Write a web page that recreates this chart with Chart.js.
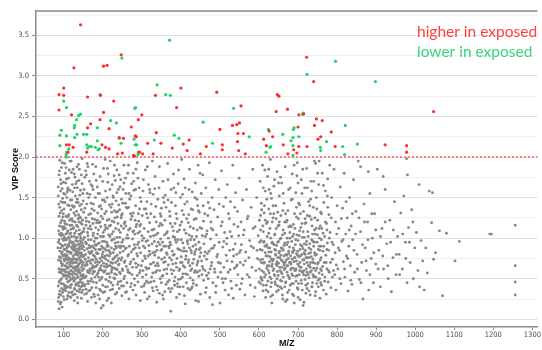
<!DOCTYPE html>
<html>
<head>
<meta charset="utf-8">
<script src="https://cdn.jsdelivr.net/npm/chart.js@4.4.0/dist/chart.umd.min.js"></script>
<style>
  body { margin: 0; background: #fff; }
  canvas { display: block; }
</style>
</head>
<body>
<canvas id="vipChart" width="542" height="350"></canvas>
<script>
// VIP score vs M/Z. Each point is [M/Z, VIP]
const vipCut = 2.0
const mzTicks = [100, 200, 300, 400, 500, 600, 700, 800, 900, 1000, 1100, 1200, 1300]
const legendTexts = ['higher in exposed', 'lower in exposed']

// features above the cut, higher in exposed
const higherPts = [
  [143,3.63],[88,2.77],[100,2.85],[100,2.76],[88,2.58],[126,3.10],[120,2.52],[161,2.74],[107,2.15],[114,2.15],
  [124,2.12],[111,2.06],[161,2.36],[169,2.41],[159,2.06],[194,2.76],[202,3.12],[211,3.13],[202,2.55],[193,2.46],
  [198,2.15],[207,2.12],[216,2.10],[228,2.69],[216,2.35],[247,3.26],[242,2.24],[253,2.23],[238,2.04],[250,2.05],
  [273,2.37],[283,2.26],[286,2.25],[279,2.02],[281,2.01],[291,2.46],[300,2.52],[294,2.06],[302,2.04],[335,2.76],
  [337,2.30],[349,2.17],[329,2.04],[315,2.17],[400,2.85],[389,2.61],[378,2.11],[406,2.16],[421,2.21],[416,2.08],
  [450,2.04],[465,2.13],[492,2.80],[500,2.34],[506,2.15],[506,2.09],[532,2.39],[543,2.40],[550,2.42],[554,2.63],
  [546,2.29],[560,2.29],[545,2.19],[548,2.08],[565,2.04],[612,2.22],[619,2.14],[635,2.25],[644,2.56],[647,2.77],
  [722,3.23],[740,2.93],[651,2.75],[673,2.59],[702,2.52],[714,2.53],[747,2.47],[762,2.45],[742,2.39],[700,2.37],
  [626,2.32],[785,2.31],[758,2.25],[751,2.22],[662,2.15],[702,2.13],[723,2.13],[795,2.13],[674,2.04],[697,2.05],
  [689,2.09],[923,2.15],[978,2.14],[978,2.06],[1047,2.56]
]

// features above the cut, lower in exposed
const lowerPts = [
  [371,3.44],[249,3.22],[339,2.89],[361,2.77],[373,2.76],[100,2.69],[107,2.61],[193,2.77],[127,2.36],[128,2.39],
  [133,2.46],[138,2.51],[143,2.53],[90,2.27],[94,2.33],[90,2.14],[107,2.26],[108,2.06],[106,2.03],[107,2.00],
  [113,2.10],[128,2.24],[134,2.28],[151,2.28],[159,2.28],[159,2.15],[161,2.11],[166,2.13],[171,2.13],[181,2.12],
  [188,2.09],[191,2.10],[186,2.36],[186,2.20],[220,2.45],[235,2.42],[247,2.17],[242,2.23],[282,2.60],[284,2.61],
  [280,2.22],[283,2.15],[287,2.15],[291,2.06],[290,2.03],[332,2.21],[383,2.27],[395,2.23],[457,2.43],[481,2.17],
  [535,2.60],[575,2.25],[624,2.34],[628,2.12],[618,2.06],[796,3.18],[723,3.02],[898,2.93],[711,2.53],[714,2.54],
  [821,2.39],[690,2.36],[688,2.34],[661,2.28],[687,2.24],[702,2.25],[682,2.20],[773,2.19],[630,2.13],[687,2.14],
  [757,2.12],[758,2.08],[814,2.13],[852,2.16],[819,2.03],[687,2.02]
]

// everything under the cut, by M/Z range
const grayLow = [
  [86,0.95],[87,1.42],[88,0.62],[88,1.78],[89,0.31],[89,1.15],[90,0.84],[90,1.96],[91,0.48],[91,1.31],
  [92,0.72],[92,1.58],[93,0.21],[93,1.03],[94,0.57],[94,1.87],[95,0.38],[95,1.22],[96,0.91],[96,0.66],
  [97,1.49],[97,0.44],[98,1.11],[98,0.79],[99,1.69],[99,0.28],[100,0.97],[100,0.53],[101,1.36],[101,0.74],
  [102,1.92],[102,0.41],[103,0.86],[103,1.18],[104,0.61],[104,1.54],[105,0.35],[105,0.99],[106,0.77],[106,1.27],
  [107,0.50],[107,1.73],[108,0.88],[108,0.25],[109,1.07],[109,0.69],[110,1.41],[110,0.46],[111,0.83],[111,1.62],
  [112,0.58],[112,1.01],[113,0.33],[113,1.29],[114,0.75],[114,1.84],[115,0.52],[115,0.94],[116,1.16],[116,0.67],
  [117,0.39],[117,1.47],[118,0.81],[118,1.06],[119,0.60],[119,1.95],[120,0.43],[120,0.89],[121,1.24],[121,0.71],
  [122,0.55],[122,1.66],[123,0.92],[123,0.30],[124,1.12],[124,0.78],[125,0.63],[125,1.38],[126,0.47],[126,0.85],
  [127,1.02],[127,1.79],[128,0.70],[128,0.37],[129,1.20],[129,0.56],[130,0.90],[130,1.52],[131,0.65],[131,0.42],
  [132,1.09],[132,0.80],[133,1.33],[133,0.51],[134,0.74],[134,1.88],[135,0.96],[135,0.27],[136,0.59],[136,1.14],
  [137,0.83],[137,1.44],[138,0.45],[138,0.68],[139,1.05],[139,1.71],[140,0.76],[140,0.34],[141,0.93],[141,1.26],
  [142,0.57],[142,0.81],[143,1.59],[143,0.49],[144,0.72],[144,1.00],[145,0.40],[145,1.35],[146,0.87],[146,0.64],
  [147,1.17],[147,1.98],[148,0.53],[148,0.79],[149,1.08],[149,0.36],[150,0.70],[150,1.46],
  [87,0.73],[89,0.58],[90,1.05],[92,0.88],[94,0.69],[95,0.81],[97,0.99],[98,0.61],[100,0.78],[101,1.14],
  [103,0.66],[104,0.92],[106,0.54],[107,0.98],[109,0.84],[110,0.63],[112,0.76],[113,0.90],[115,0.71],[116,0.48],
  [118,0.60],[119,0.82],[121,0.95],[122,0.73],[124,0.58],[125,0.86],[127,0.64],[128,0.92],[130,0.74],[131,0.83],
  [133,0.62],[134,0.55],[136,0.79],[137,0.66],[139,0.88],[140,0.61],[142,0.97],[143,0.73],[145,0.82],[146,0.50],
  [148,0.67],[149,0.91],[88,1.27],[93,1.45],[96,1.61],[99,1.30],[102,1.21],[105,1.68],[108,1.50],[111,1.09],
  [114,1.40],[117,1.23],[120,1.81],[123,1.57],[126,1.31],[129,1.75],[132,1.44],[135,1.62],[138,1.29],[141,1.53],
  [144,1.19],[147,1.67],[86,0.22],[91,0.19],[96,0.15],[101,0.24],[88,0.13],[110,0.29],[118,0.27],[127,0.23],
  [136,0.20],[145,0.26],[93,0.44],[99,0.36],[106,0.41],[113,0.47],[120,0.33],[127,0.38],[134,0.43],[141,0.37],
  [148,0.45],
  [85,0.88],[86,1.63],[86,0.41],[87,1.09],[87,0.27],[88,0.98],[88,0.46],[89,1.83],[89,0.77],[90,0.35],
  [90,1.38],[91,0.93],[91,0.62],[92,1.19],[92,0.30],[93,0.76],[93,1.67],[94,0.50],[94,1.06],[95,1.34],
  [95,0.60],[96,0.83],[96,1.93],[97,0.68],[97,0.33],[98,1.26],[98,0.90],[99,0.55],[99,1.04],[100,1.55],
  [100,0.43],[101,0.86],[101,0.60],[102,1.01],[102,0.72],[103,1.44],[103,0.38],[104,0.80],[104,1.12],[105,0.58],
  [105,0.74],[106,1.05],[106,1.87],[107,0.65],[107,0.39],[108,1.17],[108,0.79],[109,0.53],[109,1.57],[110,0.90],
  [110,0.73],[111,1.27],[111,0.40],[112,0.92],[112,1.74],[113,0.64],[113,0.55],[114,1.00],[114,0.28],[115,1.22],
  [115,0.83],[116,0.97],[116,1.59],[117,0.70],[117,0.56],[118,1.35],[118,0.42],[119,1.11],[119,0.74],[120,0.65],
  [120,1.02],[121,0.50],[121,1.47],[122,0.87],[122,0.34],[123,1.21],[123,0.69],[124,0.95],[124,1.85],[125,0.52],
  [125,0.75],[126,1.13],[126,0.63],[127,0.88],[127,1.39],[128,0.49],[128,1.06],[129,0.80],[129,0.31],[130,1.28],
  [130,0.60],[131,0.97],[131,1.67],[132,0.70],[132,0.44],[133,1.16],[133,0.86],[134,1.01],[134,0.35],[135,0.73],
  [135,1.48],[136,0.64],[136,0.92],[137,1.24],[137,0.52],[138,0.82],[138,1.91],[139,0.58],[139,0.41],[140,1.10],
  [140,0.86],[141,0.69],[141,1.40],[142,1.03],[142,0.46],[143,0.90],[143,1.25],[144,0.54],[144,0.78],[145,1.06],
  [145,1.78],[146,0.71],[146,0.33],[147,0.94],[147,0.60],[148,1.22],[148,0.42],[149,0.77],[149,1.55],[150,0.98],
  [150,0.55],
  [86,1.52],[92,1.72],[98,1.44],[104,1.80],[110,1.60],[116,1.95],[122,1.40],[128,1.62],[134,1.70],[140,1.85],
  [146,1.42],[89,1.05],[95,1.14],[103,0.98],[109,1.26],[115,1.05],[121,1.16],[127,0.90],[133,1.00],[139,1.20],
  [145,0.95]
]

const grayMidLow = [
  [151,0.62],[152,1.12],[153,0.85],[153,0.41],[154,1.37],[155,0.74],[156,0.95],[156,1.83],[157,0.53],[158,0.68],
  [158,1.21],[159,0.32],[160,0.87],[160,1.55],[161,0.60],[162,1.03],[163,0.76],[163,0.44],[164,1.29],[165,0.91],
  [166,0.57],[166,1.70],[167,0.81],[168,1.15],[168,0.36],[169,0.69],[170,0.98],[170,1.43],[171,0.50],[172,0.84],
  [173,1.24],[173,0.63],[174,1.91],[175,0.73],[176,0.46],[176,1.06],[177,0.88],[178,1.34],[179,0.59],[179,0.28],
  [180,0.77],[181,1.50],[181,1.00],[182,0.65],[183,0.39],[184,1.19],[184,0.82],[185,0.55],[186,1.63],[187,0.93],
  [187,0.71],[188,0.30],[189,1.10],[190,0.60],[190,0.86],[191,1.39],[192,0.48],[193,0.75],[193,1.76],[194,1.02],
  [195,0.35],[196,0.66],[196,1.27],[197,0.90],[198,0.52],[199,1.47],[199,0.80],[200,0.42],[201,1.07],[202,0.69],
  [202,1.86],[203,0.58],[204,0.96],[205,1.30],[205,0.34],[206,0.78],[207,1.58],[208,0.49],[208,1.13],[209,0.85],
  [210,0.64],[211,1.22],[212,0.40],[212,0.92],[213,1.69],[214,0.72],[215,0.26],[215,1.04],[216,0.56],[217,1.41],
  [218,0.83],[219,0.66],[219,1.95],[220,1.16],[221,0.45],[222,0.88],[223,1.32],[223,0.61],[224,0.98],[225,0.37],
  [226,1.52],[226,0.74],[227,1.08],[228,0.51],[229,0.86],[229,1.77],[230,0.63],[231,1.25],[232,0.31],[232,0.94],
  [233,0.70],[234,1.46],[235,0.55],[236,1.01],[236,1.84],[237,0.79],[238,0.43],[239,1.18],[240,0.67],[240,1.60],
  [241,0.90],[242,0.38],[243,1.35],[243,0.58],[244,0.82],[245,1.07],[246,0.47],[246,1.72],[247,0.73],[248,1.28],
  [249,0.29],[249,0.95],[250,0.62],[251,1.43],[252,0.84],[253,1.12],[253,0.41],[254,1.90],[255,0.70],[256,0.53],
  [257,1.20],[258,0.87],[258,0.33],[259,1.55],[260,0.65],[261,1.00],[262,0.45],[263,1.37],[264,0.78],[264,1.80],
  [265,0.58],[266,1.10],[267,0.25],[268,0.90],[269,1.48],[270,0.68],[271,0.40],[272,1.23],[273,0.83],[274,1.67],
  [275,0.55],[276,0.99],[277,0.36],[278,1.31],[279,0.74],[280,1.59],[281,0.50],[282,1.05],[283,0.88],[284,1.40],
  [285,0.30],[286,0.64],[287,1.17],[288,1.93],[289,0.78],[290,0.46],[291,1.30],[292,0.95],[293,1.62],[294,0.57],
  [295,1.08],[296,0.23],[297,0.82],[298,1.45],[299,0.66],[300,1.03],
  [152,0.78],[155,0.52],[157,0.94],[159,0.71],[162,0.47],[164,0.83],[167,0.62],[169,0.89],[171,0.73],[174,0.56],
  [176,0.79],[178,0.64],[180,0.92],[183,0.74],[185,0.81],[188,0.57],[191,0.70],[194,0.61],[197,0.72],[200,0.88],
  [203,0.76],[206,0.60],[209,0.68],[212,0.79],[215,0.85],[218,0.52],[221,0.70],[224,0.64],[227,0.82],[230,0.56],
  [233,0.90],[237,0.61],[241,0.75],[245,0.88],[154,0.31],[161,0.22],[171,0.27],[182,0.20],[192,0.25],[201,0.17],
  [211,0.23],[222,0.20],[196,0.14],[173,1.64],[186,1.22],[199,1.02],[211,1.50],[224,1.66],[238,1.33],[252,1.60],
  [266,1.38],[279,1.09],[292,1.21],[160,1.92],[177,1.79],[206,1.97],[232,1.71],[258,1.74],[285,1.85],
  [151,0.89],[151,1.32],[152,0.51],[153,1.01],[154,0.66],[154,1.75],[155,0.43],[156,0.80],[157,1.16],[157,0.37],
  [158,0.93],[159,1.42],[160,0.67],[161,1.07],[162,0.58],[162,1.88],[163,0.98],[164,0.35],[165,0.72],[165,1.20],
  [166,0.88],[167,1.54],[168,0.60],[169,0.47],[170,1.11],[171,0.82],[172,0.39],[172,1.36],[173,0.90],[174,0.66],
  [175,1.03],[175,1.60],[176,0.59],[177,0.31],[178,0.96],[179,1.23],[180,0.52],[181,0.70],[182,1.13],[183,0.91],
  [183,1.71],[184,0.45],[185,1.00],[186,0.67],[187,1.31],[188,0.81],[189,0.52],[190,1.19],[191,0.94],[192,0.37],
  [192,1.55],[193,0.63],[194,0.86],[195,1.14],[196,0.50],[197,1.36],[198,0.77],[199,0.60],[200,1.24],[201,0.83],
  [201,0.33],[202,1.02],[203,1.47],[204,0.65],[205,0.87],[206,1.16],[207,0.40],[208,0.74],[209,1.33],[210,0.95],
  [211,0.56],[212,1.12],[213,0.66],[214,0.90],[214,1.79],[215,0.47],[216,1.23],[217,0.78],[218,1.02],[219,0.36],
  [220,0.81],[221,1.38],[222,0.58],[223,0.97],[224,1.21],[225,0.69],[226,0.42],[227,1.50],[228,0.75],[229,0.99],
  [230,1.34],[231,0.50],[232,0.77],[233,1.12],[234,0.62],[235,0.88],[236,0.33],[237,1.26],[238,0.72],[239,0.95],
  [240,0.46],[241,1.41],[242,0.68],[243,1.01],[244,1.63],[245,0.56],[246,0.90],[247,1.15],[248,0.41],[249,0.76],
  [250,1.30],[251,0.60],[252,0.98],[254,0.50],[255,1.18],[257,0.72],[258,1.43],[260,0.88],[261,0.34],[263,1.04],
  [264,0.61],[266,0.80],[267,1.55],[269,0.57],[270,1.12],[272,0.71],[273,0.44],[275,1.27],[276,0.64],[278,0.86],
  [279,1.70],[281,0.92],[282,0.42],[284,0.69],[285,1.14],[287,0.81],[288,0.54],[290,1.06],[291,0.67],[293,0.88],
  [294,1.36],[296,0.60],[297,1.17],[299,0.40],
  [152,1.60],[158,1.78],[164,1.50],[170,1.66],[176,1.42],[182,1.88],[188,1.55],[194,1.40],[200,1.70],[206,1.45],
  [212,1.86],[218,1.60],[224,1.42],[230,1.90],[236,1.56],[242,1.78],[248,1.48],[254,1.68],[260,1.38],[266,1.90],
  [272,1.52],[278,1.80],[284,1.60],[290,1.74],[296,1.50],[151,1.08],[157,1.25],[163,1.12],[169,1.30],[175,1.18],
  [181,0.86],[187,1.05],[193,1.20],[199,0.96],[205,1.10],[211,0.90],[217,1.15],[223,1.05],[229,1.20],[235,1.32],
  [241,1.10],[247,1.25],[253,0.90],[259,1.15],[265,1.00],[271,1.30],[277,1.08],[283,1.22],[289,0.92],[295,1.15]
]

const grayMid = [
  [302,0.72],[303,1.58],[305,0.41],[306,1.12],[308,0.88],[309,1.84],[311,0.55],[312,1.30],[314,0.25],[315,0.97],
  [317,1.66],[318,0.63],[320,1.19],[321,0.80],[323,0.46],[324,1.42],[326,0.93],[327,1.95],[329,0.35],[330,0.70],
  [332,1.26],[333,1.61],[335,0.58],[336,1.04],[338,0.21],[339,0.85],[341,1.48],[342,0.66],[344,1.15],[345,1.88],
  [347,0.50],[348,0.99],[350,1.37],[351,0.74],[353,0.30],[354,1.70],[356,0.90],[357,0.61],[359,1.22],[360,1.53],
  [362,0.43],[363,0.82],[365,1.08],[366,1.92],[368,0.67],[369,0.38],[371,1.33],[372,0.95],[374,0.10],[375,1.60],
  [377,0.56],[378,1.14],[380,0.79],[381,1.79],[383,0.47],[384,1.01],[386,1.40],[387,0.69],[389,0.27],[390,1.24],
  [392,0.87],[393,1.67],[395,0.60],[396,1.10],[398,0.40],[399,1.50],[401,0.77],[402,1.97],[404,0.52],[405,0.94],
  [407,1.29],[408,1.73],[410,0.64],[411,0.19],[413,1.06],[414,0.84],[416,1.45],[417,0.55],[419,1.19],[420,0.73],
  [422,1.85],[423,0.36],[425,0.98],[426,1.36],[428,0.62],[429,1.57],[431,0.90],[432,0.44],[434,1.23],[435,0.80],
  [437,1.68],[438,0.23],[440,1.02],[441,0.67],[443,1.40],[444,1.90],[446,0.53],[447,0.86],[449,1.13],[450,0.31],
  [452,1.55],[453,0.72],[455,1.03],[456,1.78],[458,0.48],[459,0.93],[461,1.30],[462,0.60],[464,1.62],[465,0.39],
  [467,1.09],[468,0.81],[470,1.44],[471,0.57],[473,1.93],[474,0.27],[476,0.99],[477,1.20],[479,0.70],[480,1.50],
  [482,0.45],[483,0.88],[485,1.35],[486,0.62],[488,1.72],[489,0.33],[491,1.04],[492,0.77],[494,1.26],[495,0.52],
  [497,1.60],[498,0.95],[500,0.20],[501,0.69],[503,1.15],[504,1.83],[506,0.50],[507,0.89],[509,1.39],[510,0.64],
  [512,1.07],[513,0.36],[515,1.50],[516,0.79],[518,1.00],[519,1.66],[521,0.58],[522,0.30],[524,1.24],[525,0.85],
  [527,1.45],[528,0.47],[530,1.02],[531,0.71],[533,1.90],[534,0.26],[536,1.17],[537,0.63],[539,0.93],[540,1.56],
  [542,0.42],[543,0.80],[545,1.33],[546,0.55],[548,1.03],[549,1.74],[551,0.37],[552,0.70],[554,1.20],[555,0.92],
  [557,0.50],[558,1.47],[560,0.67],[562,1.10],[564,0.30],[566,0.83],[568,1.60],[570,0.55],[572,1.27],[574,0.76],
  [576,0.97],[578,0.42],[580,1.38],[582,0.64],[584,1.85],[586,0.88],[588,0.28],[590,1.14],[592,0.60],[594,1.50],
  [596,0.75],[598,1.03],[600,0.46],
  [304,0.90],[310,0.64],[316,0.78],[322,1.02],[328,0.57],[334,0.83],[340,0.69],[346,0.92],[352,0.53],[358,0.76],
  [364,0.62],[370,0.88],[376,0.73],[382,0.60],[388,0.95],[394,0.49],[400,0.85],[406,0.66],[412,0.74],[418,0.93],
  [424,0.51],[430,0.69],[436,0.83],[442,0.58],[448,0.77],[313,1.45],[331,1.11],[349,1.27],[367,1.47],[385,1.18],
  [403,1.34],[421,1.04],[439,1.24],[457,0.62],[466,0.74],[478,0.87],[487,0.58],[496,0.70],[508,0.45],[517,0.93],
  [526,0.61],[535,0.78],[544,0.67],[553,0.85],[307,0.33],[319,0.28],[337,0.40],[355,0.25],[373,0.34],[391,0.44],
  [409,0.29],[427,0.38],[445,0.22],[463,0.33],[481,0.18],
  [301,0.97],[303,0.60],[306,1.36],[309,0.75],[312,0.47],[315,1.25],[318,0.91],[321,1.56],[324,0.68],[327,0.39],
  [330,1.03],[333,0.79],[336,1.39],[339,0.60],[342,0.95],[345,0.32],[348,1.18],[351,0.86],[354,0.54],[357,1.44],
  [360,0.71],[363,1.06],[366,0.46],[369,0.90],[372,1.27],[375,0.61],[378,0.84],[381,1.09],[384,0.42],[387,1.56],
  [390,0.75],[393,0.98],[396,0.31],[399,0.70],[402,1.20],[405,0.56],[408,0.88],[411,1.62],[414,0.45],[417,0.97],
  [420,1.29],[423,0.66],[426,0.85],[429,0.40],[432,1.12],[435,0.58],[438,0.92],[441,1.48],[444,0.72],[447,1.32],
  [450,0.88],[454,0.55],[458,1.21],[462,0.83],[466,1.05],[470,0.50],[474,1.37],[478,0.66],[482,1.10],[486,0.91],
  [490,0.41],[494,0.80],[498,1.42],[502,0.58],[506,1.20],[510,0.96],[514,0.50],[518,0.72],[522,1.30],[526,1.08],
  [530,0.38],[534,0.86],[538,1.38],[542,0.65],[546,1.14],[550,0.82],[555,0.44],[560,1.04],[565,0.72],[570,1.24],
  [575,0.52],[580,0.90],[585,1.12],[590,0.39],[595,0.85],
  [301,1.28],[302,0.52],[304,1.72],[305,1.00],[307,0.78],[308,0.44],[310,1.36],[311,0.96],[313,0.62],[314,1.88],
  [316,1.08],[317,0.45],[319,0.84],[320,1.60],[322,0.68],[323,1.30],[325,0.52],[326,1.10],[328,0.82],[329,1.54],
  [331,0.47],[332,0.96],[334,1.76],[335,0.66],[337,1.20],[338,0.90],[340,0.36],[341,1.06],[343,0.76],[344,1.62],
  [346,0.60],[347,1.30],[349,0.85],[350,0.45],[352,1.16],[353,0.95],[355,1.50],[356,0.70],[358,1.04],[359,0.34],
  [361,0.90],[362,1.38],[364,0.56],[365,0.80],[367,1.72],[368,1.00],[370,0.48],[371,0.76],[373,1.18],[374,0.92],
  [376,1.44],[377,0.38],[379,0.68],[380,1.02],[382,1.62],[383,0.80],[385,0.52],[386,0.98],[388,1.30],[389,0.64],
  [391,1.08],[392,0.40],[394,1.84],[395,0.86],[397,0.62],[398,1.16],[400,0.50],[401,0.98],[403,0.70],[404,1.54],
  [406,0.40],[407,0.84],[409,1.10],[410,1.42],[412,0.56],[413,0.78],[415,1.24],[416,0.96],[418,0.38],[419,0.70],
  [421,1.60],[422,0.88],[424,1.14],[425,0.60],[427,0.82],[428,1.02],[430,1.35],[431,0.48],[433,0.74],[434,0.98],
  [436,1.50],[437,0.60],[439,0.86],[440,0.42],[442,1.10],[443,0.70],[445,1.34],[446,0.95],[448,0.60],[449,1.80],
  [451,0.82],[453,1.12],[455,0.65],[457,1.40],[460,0.78],[463,1.02],[466,0.54],[469,1.28],[472,0.84],[475,0.62],
  [478,1.12]
]

const grayMidHigh = [
  [601,1.22],[602,0.73],[603,1.70],[604,0.44],[605,0.97],[606,1.43],[607,0.60],[608,0.85],[609,1.90],[610,0.35],
  [611,1.08],[612,0.69],[613,1.31],[614,0.52],[615,0.90],[616,1.58],[617,0.27],[618,0.78],[619,1.18],[620,0.63],
  [621,1.02],[622,1.76],[623,0.47],[624,0.88],[625,1.36],[626,0.57],[627,0.71],[628,1.12],[629,1.97],[630,0.40],
  [631,0.83],[632,1.49],[633,0.65],[634,0.95],[635,0.30],[636,1.25],[637,0.74],[638,1.64],[639,0.55],[640,0.86],
  [641,1.05],[642,0.43],[643,1.40],[644,0.68],[645,0.91],[646,1.82],[647,0.59],[648,0.76],[649,1.15],[650,0.36],
  [651,0.82],[652,1.52],[653,0.64],[654,0.99],[655,0.48],[656,1.28],[657,0.73],[658,1.68],[659,0.56],[660,0.87],
  [661,0.25],[662,1.10],[663,0.70],[664,1.43],[665,0.61],[666,0.94],[667,1.88],[668,0.45],[669,0.80],[670,1.20],
  [671,0.66],[672,1.00],[673,0.33],[674,1.34],[675,0.75],[676,1.60],[677,0.52],[678,0.89],[679,1.07],[680,0.42],
  [681,0.78],[682,1.47],[683,0.63],[684,0.96],[685,1.79],[686,0.54],[687,0.84],[688,1.17],[689,0.29],[690,0.71],
  [691,1.30],[692,0.60],[693,0.92],[694,1.56],[695,0.47],[696,0.81],[697,1.04],[698,1.93],[699,0.68],[700,0.37],
  [701,1.24],[702,0.77],[703,0.55],[704,1.41],[705,0.86],[706,0.64],[707,1.13],[708,1.72],[709,0.44],[710,0.80],
  [711,1.01],[712,0.58],[713,0.17],[714,1.33],[715,0.73],[716,0.93],[717,1.62],[718,0.49],[719,0.85],[720,1.19],
  [721,0.62],[722,1.86],[723,0.38],[724,0.76],[725,1.08],[726,0.55],[727,1.45],[728,0.88],[729,0.67],[730,1.27],
  [731,0.30],[732,0.82],[733,1.70],[734,0.60],[735,0.98],[736,1.15],[737,0.45],[738,0.74],[739,1.38],[740,0.90],
  [741,0.53],[742,1.95],[743,0.69],[744,1.05],[745,0.34],[746,0.80],[747,1.50],[748,0.63],[749,0.95],[750,1.22],
  [751,0.48],[752,0.86],[753,1.66],[754,0.57],[755,1.00],[756,0.26],[757,0.73],[758,1.32],[759,0.90],[760,0.42],
  [761,1.12],[762,1.80],[763,0.65],[764,0.84],[765,0.36],[766,1.44],[767,0.70],[768,1.02],[769,0.52],[770,1.58],
  [771,0.79],[772,0.31],[773,1.18],[774,0.62],[775,0.94],[776,1.73],[777,0.46],[778,0.85],[779,1.29],[780,0.58],
  [782,1.07],[784,0.39],[786,1.50],[788,0.74],[790,0.92],[792,1.85],[794,0.55],[796,1.20],[798,0.67],[800,1.40],
  [621,0.66],[625,0.83],[628,0.52],[632,0.74],[636,0.60],[639,0.92],[643,0.79],[646,0.50],[650,0.69],[653,0.84],
  [657,0.58],[660,0.72],[664,0.91],[667,0.63],[671,0.79],[674,0.54],[678,0.70],[681,0.61],[685,0.74],[688,0.88],
  [692,0.76],[695,0.62],[699,0.84],[702,0.66],[706,0.78],[709,0.59],[713,0.87],[716,0.68],[720,0.76],[723,0.58],
  [727,0.81],[731,0.64],[734,0.77],[738,0.55],[742,0.82],[630,0.28],[645,0.34],[658,0.38],[672,0.24],[686,0.31],
  [700,0.27],[715,0.21],[728,0.35],[744,0.29],[758,0.45],[634,1.20],[648,1.32],[662,1.55],[676,1.14],[690,1.90],
  [704,1.09],[718,1.24],[732,1.48],[746,1.12],[760,0.98],[774,1.10],[788,0.52],[605,0.52],[612,0.95],[619,0.42],
  [640,1.72],[666,1.20],[696,1.38],[724,1.62],[750,1.80],[775,1.52],[783,0.70],[787,0.95],[791,0.60],[795,0.82],
  [799,1.05],[797,0.36],[781,1.90],[785,1.25],
  [602,0.95],[604,1.28],[606,0.70],[608,0.48],[610,1.15],[612,0.58],[614,1.40],[616,0.82],[618,0.36],[620,0.92],
  [622,1.20],[624,0.60],[626,1.60],[628,0.77],[630,1.00],[632,0.45],[634,0.68],[636,0.93],[638,1.30],[640,0.54],
  [642,0.80],[644,1.12],[646,0.71],[648,0.41],[650,0.96],[652,1.20],[654,0.60],[656,0.79],[658,0.47],[660,1.04],
  [662,0.85],[664,0.67],[666,0.40],[668,1.30],[670,0.73],[672,0.58],[674,0.95],[676,0.81],[678,0.50],[680,1.15],
  [682,0.68],[684,0.44],[686,1.02],[688,0.63],[690,0.85],[692,1.12],[694,0.53],[696,0.72],[698,0.39],[700,0.97],
  [702,1.43],[704,0.60],[706,0.92],[708,0.48],[710,1.18],[712,0.73],[714,0.55],[716,1.01],[718,0.80],[720,0.42],
  [722,0.96],[724,1.28],[726,0.66],[728,0.51],[730,0.93],[732,0.70],[734,1.23],[736,0.40],[738,0.96],[740,0.63],
  [742,1.10],[744,0.79],[746,0.52],[748,1.36],[750,0.68],[752,0.40],[754,1.12],[756,0.85],[758,0.62],[760,1.30],
  [762,0.55],[764,1.06],[766,0.90],[768,0.47],[770,1.20],[772,0.70],[774,0.86],[776,1.38],[778,0.60],[780,1.00],
  [625,1.85],[650,1.68],[680,1.62],[710,1.55],[740,1.70],[765,1.65],[633,0.20],[668,0.22],[705,0.24],[611,1.62],
  [697,1.77],[754,1.95],
  [601,0.62],[603,0.86],[604,1.10],[606,0.50],[607,1.35],[609,0.74],[611,0.42],[613,0.96],[614,0.70],[616,1.22],
  [617,0.55],[619,0.90],[620,1.48],[622,0.78],[623,0.34],[625,1.06],[626,0.66],[628,0.88],[629,1.30],[631,0.50],
  [633,0.94],[635,0.72],[636,1.40],[638,0.62],[640,1.04],[641,0.46],[643,0.85],[644,1.24],[646,0.66],[648,0.95],
  [649,0.54],[651,1.16],[653,0.76],[654,0.40],[656,1.00],[657,0.88],[659,0.64],[661,1.34],[662,0.52],[664,0.78],
  [666,1.06],[667,0.70],[669,0.46],[671,0.92],[672,1.22],[674,0.66],[676,0.84],[677,0.36],[679,1.00],[681,0.70],
  [683,1.14],[684,0.56],[686,0.82],[688,0.44],[689,1.05],[691,0.76],[693,0.60],[694,0.98],[696,1.26],[698,0.54],
  [699,0.79],[701,0.44],[703,1.03],[705,0.70],[706,1.30],[708,0.64],[710,0.90],[711,0.36],[713,1.08],[715,0.60],
  [716,0.82],[718,1.18],[720,0.54],[721,0.92],[723,0.70],[725,0.44],[726,1.02],[728,0.76],[730,1.40],[731,0.58],
  [733,0.86],[735,0.40],[737,1.05],[738,0.70],[740,0.52],[742,0.95],[743,1.25],[745,0.60],[747,0.80],[748,0.44],
  [750,1.04],[752,0.70],[754,0.90],[755,0.50],[757,1.15],[759,0.76],[760,0.60],[630,1.55],[655,1.75],[685,1.48],
  [712,1.85],[735,1.58],[660,0.30],[690,0.20],[720,0.32],[615,1.84],[700,1.68],[745,1.92]
]

const grayHigh = [
  [802,0.62],[804,1.12],[806,0.85],[808,1.63],[810,0.44],[812,0.96],[814,1.37],[816,0.71],[818,1.80],[820,0.52],
  [822,1.05],[824,0.78],[826,1.25],[828,0.35],[830,0.90],[832,1.50],[834,0.66],[836,1.15],[838,0.43],[840,0.98],
  [842,1.72],[845,0.58],[848,1.33],[851,0.80],[854,1.95],[857,0.49],[860,1.08],[863,0.70],[866,0.25],[869,1.42],
  [872,0.88],[875,0.60],[878,1.20],[881,0.36],[884,1.55],[887,0.75],[890,1.00],[893,0.45],[896,1.30],[899,0.68],
  [903,1.85],[907,0.85],[911,0.40],[915,1.12],[919,0.62],[923,1.60],[927,0.93],[931,0.50],[935,1.22],[939,0.34],
  [943,0.76],[947,1.45],[951,0.55],[955,1.02],[959,0.80],[963,1.31],[967,0.62],[971,1.52],[975,0.95],[979,0.45],
  [983,1.13],[987,0.70],[991,1.35],[995,0.50],[999,0.88],[1003,1.07],[1007,0.60],[1011,0.40],[1015,0.97],[1019,0.72],
  [1023,0.36],[1027,0.88],[1031,0.57],[1036,1.58],[1042,1.19],[1044,1.56],[1047,0.74],[1052,0.82],[1062,1.09],[1070,0.29],
  [1080,1.06],[1102,0.72],[1113,0.96],[1191,1.05],[1195,1.05],[1256,1.16],[1256,0.66],[1256,0.46],[1256,0.30],
  [860,1.88],[880,1.82],[918,1.76],[980,1.78],[1010,1.66],[978,1.98],
  [803,0.88],[807,0.50],[811,1.24],[815,0.98],[819,0.62],[823,1.45],[827,0.75],[831,1.10],[835,0.48],[839,1.30],
  [843,0.85],[847,1.05],[852,0.62],[856,1.25],[861,0.45],[865,0.92],[870,1.20],[874,0.72],[879,0.98],[884,0.55],
  [889,1.30],[894,0.82],[899,1.10],[905,0.62],[911,1.02],[917,0.78],[923,1.20],[930,0.66],[937,0.95],[944,1.10],
  [952,0.80],[960,0.55],[968,1.05],[976,0.75],[985,0.95],[994,1.20]
]

const grayPts = [...grayLow, ...grayMidLow, ...grayMid, ...grayMidHigh, ...grayHigh]

function toXY(list) {
  return list.map(p => ({ x: p[0], y: p[1] }))
}

function isHalf(v) {
  return Math.abs(v * 2 - Math.round(v * 2)) < 1e-6
}

// dashed cut line, top frame line and the coloured legend text
const extras = {
  id: 'extras',
  beforeDatasetsDraw(chart) {
    const ctx = chart.ctx
    const area = chart.chartArea
    const y = chart.scales.y.getPixelForValue(vipCut)
    ctx.save()
    ctx.strokeStyle = '#ff5a5a'
    ctx.lineWidth = 1.5
    ctx.setLineDash([2, 2])
    ctx.beginPath()
    ctx.moveTo(area.left, y)
    ctx.lineTo(area.right, y)
    ctx.stroke()
    ctx.restore()
  },
  afterDraw(chart) {
    const ctx = chart.ctx
    const area = chart.chartArea
    ctx.save()
    ctx.strokeStyle = '#a6a6a6'
    ctx.lineWidth = 2
    ctx.beginPath()
    ctx.moveTo(area.left, area.top)
    ctx.lineTo(area.right, area.top)
    ctx.stroke()
    ctx.font = '15.5px Lato, "Open Sans", sans-serif'
    ctx.textBaseline = 'middle'
    ctx.fillStyle = '#ff4040'
    ctx.fillText(legendTexts[0], 417, 32)
    ctx.fillStyle = '#3dd47f'
    ctx.fillText(legendTexts[1], 417, 52)
    ctx.restore()
  }
}

const tickFont = { family: '"Liberation Sans Narrow", "DejaVu Sans Condensed", sans-serif', size: 7.5 }
const titleFont = { family: '"Liberation Sans", Arial, sans-serif', size: 9, weight: 'bold' }

new Chart(document.getElementById('vipChart'), {
  type: 'scatter',
  data: {
    datasets: [
      { label: legendTexts[0], data: toXY(higherPts), backgroundColor: '#ff2d2d', pointRadius: 1.6, borderWidth: 0, order: 1 },
      { label: legendTexts[1], data: toXY(lowerPts), backgroundColor: '#22d36b', pointRadius: 1.6, borderWidth: 0, order: 1 },
      { label: 'other', data: toXY(grayPts), backgroundColor: '#888888', pointRadius: 1.45, borderWidth: 0, order: 3 }
    ]
  },
  plugins: [extras],
  options: {
    responsive: false,
    animation: false,
    layout: { padding: { top: 11, right: 0, left: 0, bottom: 0 } },
    plugins: { legend: { display: false }, tooltip: { enabled: false } },
    scales: {
      x: {
        type: 'linear',
        min: 29,
        max: 1313,
        afterFit: s => { s.height = 23 },
        afterBuildTicks: s => { s.ticks = mzTicks.map(v => ({ value: v })) },
        ticks: { font: tickFont, color: '#4d4d4d', padding: 1, maxRotation: 0, includeBounds: false, callback: v => String(v) },
        grid: { drawOnChartArea: false, drawTicks: true, tickLength: 3, tickColor: '#8c8c8c' },
        border: { color: '#8c8c8c', width: 1.5 },
        title: { display: true, text: 'M/Z', font: titleFont, color: '#111', padding: { top: 0, bottom: 1 } }
      },
      y: {
        min: -0.095,
        max: 3.8,
        afterFit: s => { s.width = 36 },
        afterBuildTicks: s => {
          s.ticks = s.ticks.filter(t => t.value >= 0 && Math.abs(t.value * 4 - Math.round(t.value * 4)) < 1e-6)
        },
        ticks: {
          stepSize: 0.25,
          includeBounds: false,
          font: tickFont,
          color: '#4d4d4d',
          padding: 3,
          callback: v => (isHalf(v) ? v.toFixed(1) : '')
        },
        grid: {
          color: c => (isHalf(c.tick.value) ? '#e2e2e2' : '#efefef'),
          tickColor: c => (isHalf(c.tick.value) ? '#8c8c8c' : 'rgba(0,0,0,0)'),
          tickLength: 4,
          lineWidth: 1
        },
        border: { color: '#8c8c8c', width: 1.5 },
        title: { display: true, text: 'VIP Score', font: titleFont, color: '#111', padding: { top: 10, bottom: 0 } }
      }
    }
  }
})
</script>
</body>
</html>
